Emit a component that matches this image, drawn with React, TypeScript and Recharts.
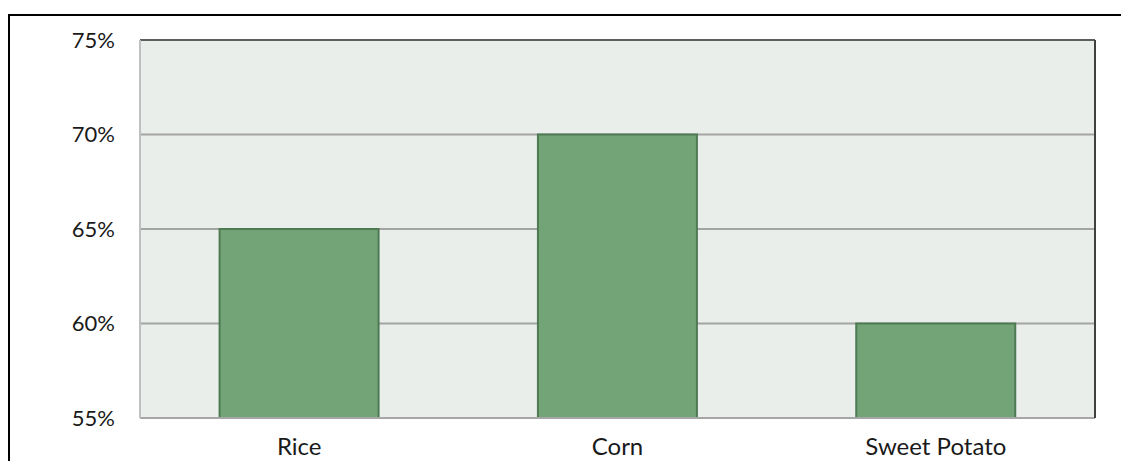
import { BarChart, Bar, XAxis, YAxis, CartesianGrid, ReferenceLine } from "recharts";

const crops = ["Rice", "Corn", "Sweet Potato"];
const shares = [65, 70, 60];
const yTicks = [55, 60, 65, 70, 75];

const data = crops.map((crop, i) => ({ crop, share: shares[i] }));

const FONT = "Lato, 'Open Sans', sans-serif";

export default function App() {
  return (
    <div style={{ paddingTop: 6 }}>
      <div
        style={{
          borderTop: "2px solid #000",
          borderLeft: "2px solid #000",
          width: 1121,
          height: 447,
          boxSizing: "border-box",
          overflow: "hidden",
        }}
      >
        <BarChart
          width={1119}
          height={447}
          data={data}
          margin={{ top: 24, right: 32, left: 0, bottom: 0 }}
          barCategoryGap="25%"
        >
          <CartesianGrid
            vertical={false}
            fill="#E9EEEA"
            stroke="#A3A3A3"
            strokeWidth={2}
          />
          <XAxis
            dataKey="crop"
            height={45}
            tickSize={0}
            tickMargin={20}
            axisLine={{ stroke: "#A6A6A6", strokeWidth: 2 }}
            tick={{ fill: "#1a1a1a", fontSize: 24, fontFamily: FONT }}
          />
          <YAxis
            width={130}
            domain={[55, 75]}
            ticks={yTicks}
            allowDataOverflow
            tickSize={0}
            tickMargin={25}
            tickFormatter={(v) => `${v}%`}
            axisLine={{ stroke: "#BFBFBF", strokeWidth: 2 }}
            tick={{ fill: "#1a1a1a", fontSize: 22, fontFamily: FONT }}
          />
          <YAxis
            yAxisId="frame"
            orientation="right"
            width={2}
            domain={[55, 75]}
            tick={false}
            tickLine={false}
            axisLine={{ stroke: "#404040", strokeWidth: 2 }}
          />
          <ReferenceLine y={75} stroke="#5E5E5E" strokeWidth={2} />
          <Bar
            dataKey="share"
            fill="#72A478"
            stroke="#4E7A53"
            strokeWidth={2}
            isAnimationActive={false}
          />
        </BarChart>
      </div>
    </div>
  );
}
